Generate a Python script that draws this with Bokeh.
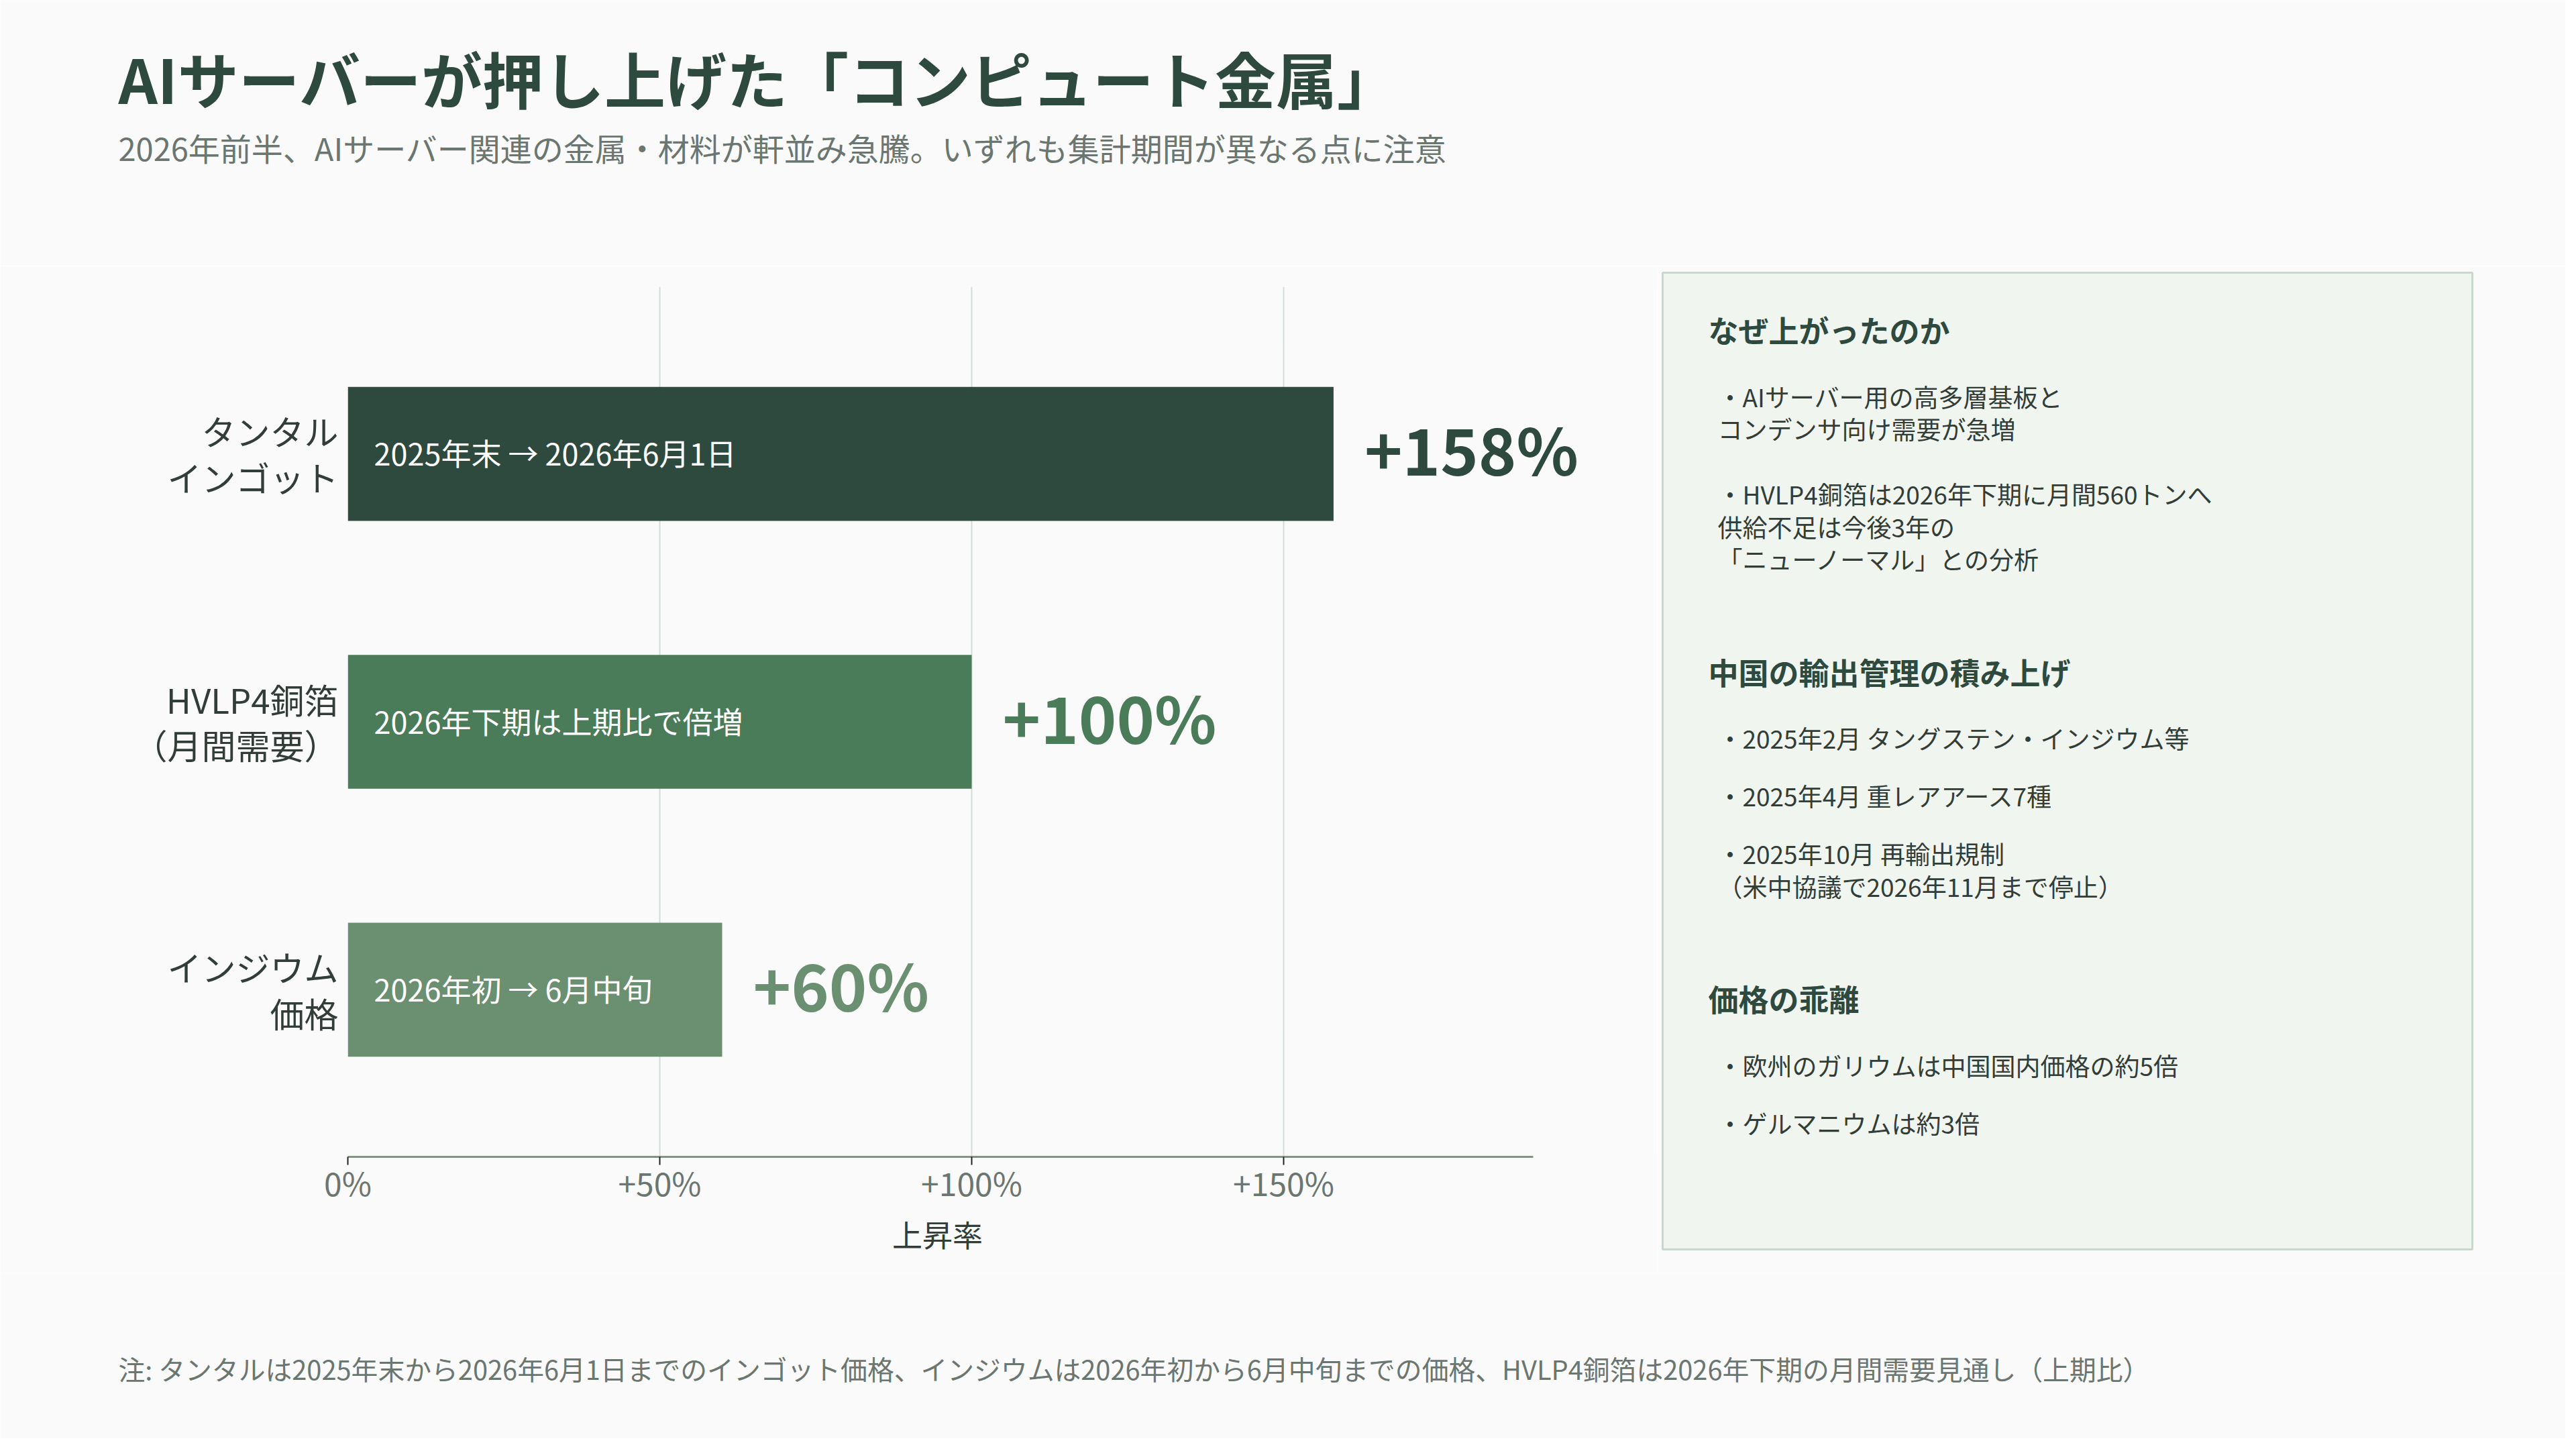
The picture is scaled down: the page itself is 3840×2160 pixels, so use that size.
from bokeh.plotting import figure
from bokeh.layouts import column, row
from bokeh.models import ColumnDataSource, FactorRange, Range1d, FixedTicker, LabelSet, Title
from bokeh.core.properties import value
from bokeh.embed import file_html
from bokeh.resources import INLINE

FONT = "Noto Sans CJK JP"
BG = "#fafafa"
DARK = "#2e4a3f"
GRAY = "#6b7670"
TEXT = "#333d38"

# --- data ---
title_text = "AIサーバーが押し上げた「コンピュート金属」"
subtitle_text = "2026年前半、AIサーバー関連の金属・材料が軒並み急騰。いずれも集計期間が異なる点に注意"
footnote_text = ("注: タンタルは2025年末から2026年6月1日までのインゴット価格、インジウムは2026年初から"
                 "6月中旬までの価格、HVLP4銅箔は2026年下期の月間需要見通し（上期比）")

materials = ["タンタル\nインゴット", "HVLP4銅箔\n（月間需要）", "インジウム\n価格"]
increase = [158, 100, 60]
periods = ["2025年末 → 2026年6月1日", "2026年下期は上期比で倍増", "2026年初 → 6月中旬"]
bar_colors = ["#2e4a3f", "#4a7c59", "#6b8f71"]

tick_values = [0, 50, 100, 150]
tick_labels = ["0%", "+50%", "+100%", "+150%"]
x_title = "上昇率"
x_max = 190

panel_headings = ["なぜ上がったのか", "中国の輸出管理の積み上げ", "価格の乖離"]
panel_items = [
    ["・AIサーバー用の高多層基板と\nコンデンサ向け需要が急増\n\n"
     "・HVLP4銅箔は2026年下期に月間560トンへ\n供給不足は今後3年の\n「ニューノーマル」との分析"],
    ["・2025年2月 タングステン・インジウム等",
     "・2025年4月 重レアアース7種",
     "・2025年10月 再輸出規制\n（米中協議で2026年11月まで停止）"],
    ["・欧州のガリウムは中国国内価格の約5倍",
     "・ゲルマニウムは約3倍"],
]


def blank_fig(w, h, **kw):
    f = figure(width=w, height=h, x_range=Range1d(0, w), y_range=Range1d(h, 0),
               toolbar_location=None, output_backend="svg", title=None,
               x_axis_location=None, y_axis_location=None, min_border=0,
               background_fill_color=BG, border_fill_color=BG, outline_line_color=None, **kw)
    f.grid.visible = False
    return f


# header
header = blank_fig(3824, 396)
header.text(x=[176], y=[114], text=[title_text], text_font=value(FONT), text_font_style="bold",
            text_font_size="91px", text_color=DARK, text_baseline="middle")
header.text(x=[176], y=[219], text=[subtitle_text], text_font=value(FONT),
            text_font_size="47px", text_color=GRAY, text_baseline="middle")

# bar chart
src = ColumnDataSource(dict(
    material=materials, increase=increase, period=periods, color=bar_colors,
    label=["+%d%%" % v for v in increase],
))

px_per_pct = 9.3
frame_w = 1947  # wider than the axis so the big value labels are not clipped
chart = figure(width=518 + frame_w + 5, height=1500, x_range=Range1d(0, frame_w / px_per_pct),
               y_range=FactorRange(factors=materials[::-1], range_padding=0.0822),
               toolbar_location=None, output_backend="svg", title=None, frame_align=False,
               min_border_left=518, min_border_right=5, min_border_top=31, min_border_bottom=172,
               background_fill_color=BG, border_fill_color=BG, outline_line_color=None)
chart.hbar(y="material", left=0, right="increase", height=0.5, fill_color="color",
           line_color=None, source=src)

chart.add_layout(LabelSet(x=0, y="material", text="period", x_offset=39, y_offset=2, source=src,
                          text_font=value(FONT), text_font_size="45px", text_color="white",
                          text_baseline="middle"))
chart.add_layout(LabelSet(x="increase", y="material", text="label", x_offset=46, y_offset=9,
                          source=src, text_font=value(FONT), text_font_size="96px",
                          text_font_style="bold", text_color="color", text_baseline="middle"))

chart.ygrid.grid_line_color = None
chart.xgrid.grid_line_color = "#d3ded6"
chart.xgrid.grid_line_width = 2

xa = chart.xaxis[0]
xa.ticker = FixedTicker(ticks=tick_values)
xa.bounds = (0, x_max)
xa.major_label_overrides = dict(zip(tick_values, tick_labels))
xa.major_label_text_font = FONT
xa.major_label_text_font_size = "48px"
xa.major_label_text_color = GRAY
xa.major_label_standoff = -10
xa.axis_line_color = "#7a9a80"
xa.axis_line_width = 3
xa.major_tick_line_color = "#222222"
xa.major_tick_line_width = 2
xa.major_tick_out = 12
xa.major_tick_in = 0
xa.minor_tick_line_color = None

# axis title centred under the 0..190% part of the frame (left-aligned title, shifted)
chart.add_layout(Title(text=x_title, align="left", offset=(x_max / 2) * px_per_pct - 72,
                       standoff=10, text_font=FONT, text_font_size="45px",
                       text_font_style="normal", text_color=TEXT), "below")

ya = chart.yaxis[0]
ya.axis_line_color = None
ya.major_tick_line_color = None
ya.minor_tick_line_color = None
ya.major_tick_out = 0
ya.major_tick_in = 0
ya.major_label_text_font = FONT
ya.major_label_text_font_size = "51px"
ya.major_label_text_color = TEXT
ya.major_label_text_align = "right"
ya.major_label_text_line_height = 0.92
ya.major_label_standoff = 14

# side panel
pw, ph = 1207, 1456
panel = figure(width=1354, height=1500, x_range=Range1d(0, pw), y_range=Range1d(ph, 0),
               toolbar_location=None, output_backend="svg", title=None, frame_align=False,
               x_axis_location=None, y_axis_location=None,
               min_border_left=8, min_border_right=139, min_border_top=10, min_border_bottom=34,
               background_fill_color="#f0f5f0", border_fill_color=BG,
               outline_line_color="#c9d8cc", outline_line_width=3)
panel.grid.visible = False

hx, hy, ht = [], [], []
bx, by, bt = [], [], []
y = 85
last = y
for s, (head, items) in enumerate(zip(panel_headings, panel_items)):
    if s:
        y = last + 168
    hx.append(68); hy.append(y); ht.append(head)
    line_y = y + 99
    for i, item in enumerate(items):
        if i:
            line_y = last + 86
        for j, line in enumerate(item.split("\n")):
            ly = line_y + j * 48.5
            if line:
                bx.append(82); by.append(ly); bt.append(line)
            last = ly

panel.text(x=hx, y=hy, text=ht, text_font=value(FONT), text_font_style="bold",
           text_font_size="45px", text_color=DARK, text_baseline="middle")
panel.text(x=bx, y=by, text=bt, text_font=value(FONT), text_font_size="37px",
           text_color=TEXT, text_baseline="middle")

# footer
footer = blank_fig(3824, 248)
footer.text(x=[176], y=[143], text=[footnote_text], text_font=value(FONT),
            text_font_size="39.8px", text_color=GRAY, text_baseline="middle")

page = column(header, row(chart, panel), footer)
open("out.html", "w").write(file_html(page, INLINE))
